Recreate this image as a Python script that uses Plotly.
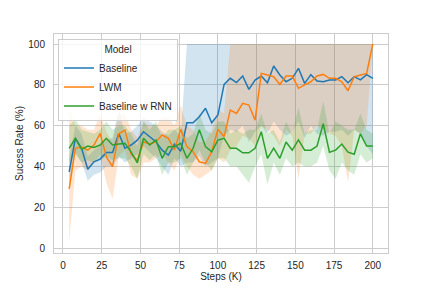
import plotly.graph_objects as go

# ---- data ----
steps = [4 * i for i in range(1, 51)]

baseline = [37.4, 53.8, 48.9, 38.6, 42.3, 43.6, 46.9, 46.9, 56.2, 48.9,
            50.5, 52.9, 57.0, 54.6, 52.1, 48.0, 45.6, 51.0, 47.5, 61.4,
            61.4, 64.4, 68.5, 61.4, 65.2, 80.2, 83.2, 81.1, 84.3, 77.8,
            82.3, 84.3, 81.0, 89.2, 84.8, 81.5, 83.2, 88.1, 80.7, 85.0,
            81.9, 81.5, 82.4, 82.4, 84.0, 81.0, 84.0, 82.4, 85.0, 83.2]
baseline_lo = [31, 47, 42, 33, 36, 37, 40, 40, 45, 42,
               44, 46, 50, 47, 44, 40, 36, 44, 40, 42,
               42, 45, 40, 42, 44, 55, 58, 57, 60, 52,
               57, 60, 56, 62, 58, 55, 57, 62, 54, 60,
               56, 55, 57, 57, 58, 55, 58, 56, 50, 46]
baseline_hi = [44, 60, 56, 45, 48, 50, 53, 54, 68, 56,
               57, 60, 64, 62, 60, 57, 55, 58, 55] + [100] * 31

lwm = [29.0, 48.9, 49.5, 48.0, 50.5, 56.2, 44.7, 39.9, 56.0, 57.8,
       46.0, 43.0, 52.0, 51.0, 52.0, 55.4, 53.8, 48.0, 58.2, 49.7,
       47.2, 42.3, 41.5, 47.2, 58.2, 54.6, 67.6, 66.0, 70.9, 70.1,
       62.7, 85.6, 84.8, 84.0, 80.2, 84.3, 84.3, 78.3, 80.0, 81.5,
       84.3, 85.1, 83.2, 83.2, 81.5, 77.1, 84.0, 84.8, 85.6, 100.0]
lwm_lo = [3, 38, 40, 38, 42, 46, 32, 24, 45, 48,
          36, 34, 42, 42, 44, 46, 42, 38, 46, 40,
          36, 34, 36, 38, 44, 42, 48, 50, 55, 54,
          50, 60, 58, 55, 50, 58, 55, 34, 56, 56,
          60, 58, 56, 55, 50, 32, 58, 56, 60, 100]
lwm_hi = [68, 60, 60, 58, 58, 66, 57, 52, 66, 66,
          58, 54, 62, 60, 60, 64, 64, 60, 70, 60,
          58, 52, 52, 58, 68, 66] + [100] * 24

rnn = [48.9, 53.8, 48.4, 50.0, 49.3, 50.5, 53.8, 50.5, 51.0, 51.3,
       47.0, 41.8, 53.8, 50.5, 53.0, 44.0, 49.7, 49.7, 51.3, 44.0,
       48.9, 58.0, 49.7, 47.2, 52.9, 53.8, 48.9, 48.9, 46.7, 46.7,
       48.9, 57.0, 44.0, 49.0, 44.0, 52.0, 48.0, 53.0, 48.0, 48.0,
       50.0, 61.0, 47.0, 48.0, 51.0, 47.0, 46.0, 56.0, 50.0, 50.0]
rnn_lo = [42, 46, 42, 43, 42, 43, 45, 43, 44, 44,
          40, 34, 46, 43, 46, 36, 42, 42, 44, 36,
          42, 48, 42, 38, 44, 44, 40, 40, 36, 32,
          40, 46, 31, 42, 36, 44, 40, 42, 40, 40,
          42, 50, 38, 34, 42, 38, 36, 46, 42, 44]
rnn_hi = [60, 63, 58, 57, 56, 58, 62, 58, 60, 60,
          56, 50, 62, 58, 62, 54, 58, 58, 60, 54,
          56, 66, 58, 56, 62, 62, 56, 58, 56, 58,
          58, 66, 56, 58, 52, 62, 56, 69, 56, 58,
          58, 72, 56, 62, 60, 58, 58, 66, 58, 56]

names = ["Baseline", "LWM", "Baseline w RNN"]
colors = ["#1f77b4", "#ff7f0e", "#2ca02c"]
fills = ["rgba(31,119,180,0.2)", "rgba(255,127,14,0.2)", "rgba(44,160,44,0.2)"]
means = [baseline, lwm, rnn]
lows = [baseline_lo, lwm_lo, rnn_lo]
highs = [baseline_hi, lwm_hi, rnn_hi]

FONT = "Liberation Sans, Arial, sans-serif"
TXT = "#262626"
GRID = "#cccccc"

fig = go.Figure()
for name, fc, lo, hi in zip(names, fills, lows, highs):
    fig.add_trace(go.Scatter(
        x=steps + steps[::-1], y=hi + lo[::-1],
        fill="toself", fillcolor=fc, line=dict(width=0),
        mode="lines", showlegend=False, hoverinfo="skip"))
for name, c, m in zip(names, colors, means):
    fig.add_trace(go.Scatter(
        x=steps, y=m, mode="lines", name=name,
        line=dict(color=c, width=1.5)))

fig.update_layout(
    width=432, height=288,
    margin=dict(l=54, r=44, t=34, b=35, autoexpand=False),
    paper_bgcolor="white", plot_bgcolor="white",
    font=dict(family=FONT, size=10, color=TXT),
    legend=dict(
        title=dict(text="Model", side="top center", font=dict(size=10, color=TXT)),
        x=0.012, y=0.975, xanchor="left", yanchor="top",
        bgcolor="rgba(255,255,255,0.8)", bordercolor=GRID, borderwidth=1,
        font=dict(size=10, color=TXT), itemwidth=30, tracegroupgap=0),
    xaxis=dict(
        range=[-5.8, 209.8], tickvals=[0, 25, 50, 75, 100, 125, 150, 175, 200],
        automargin=False,
        showgrid=True, gridcolor=GRID, gridwidth=1, zeroline=False,
        showline=True, linecolor=GRID, linewidth=1, mirror=True,
        ticks="outside", ticklen=3, tickcolor="rgba(0,0,0,0)",
        title=dict(text="Steps (K)", standoff=2, font=dict(size=10, color=TXT)),
        tickfont=dict(size=10, color=TXT)),
    yaxis=dict(
        range=[-2.4, 104.9], tickvals=[0, 20, 40, 60, 80, 100],
        automargin=False,
        showgrid=True, gridcolor=GRID, gridwidth=1, zeroline=False,
        showline=True, linecolor=GRID, linewidth=1, mirror=True,
        ticks="outside", ticklen=6, tickcolor="rgba(0,0,0,0)",
        title=dict(text="Sucess Rate (%)", standoff=2, font=dict(size=10, color=TXT)),
        tickfont=dict(size=10, color=TXT)),
)

fig.write_html(
    "out.html",
    config={"displayModeBar": False},
    post_script="document.body.style.margin='0';document.body.style.padding='0';",
)
